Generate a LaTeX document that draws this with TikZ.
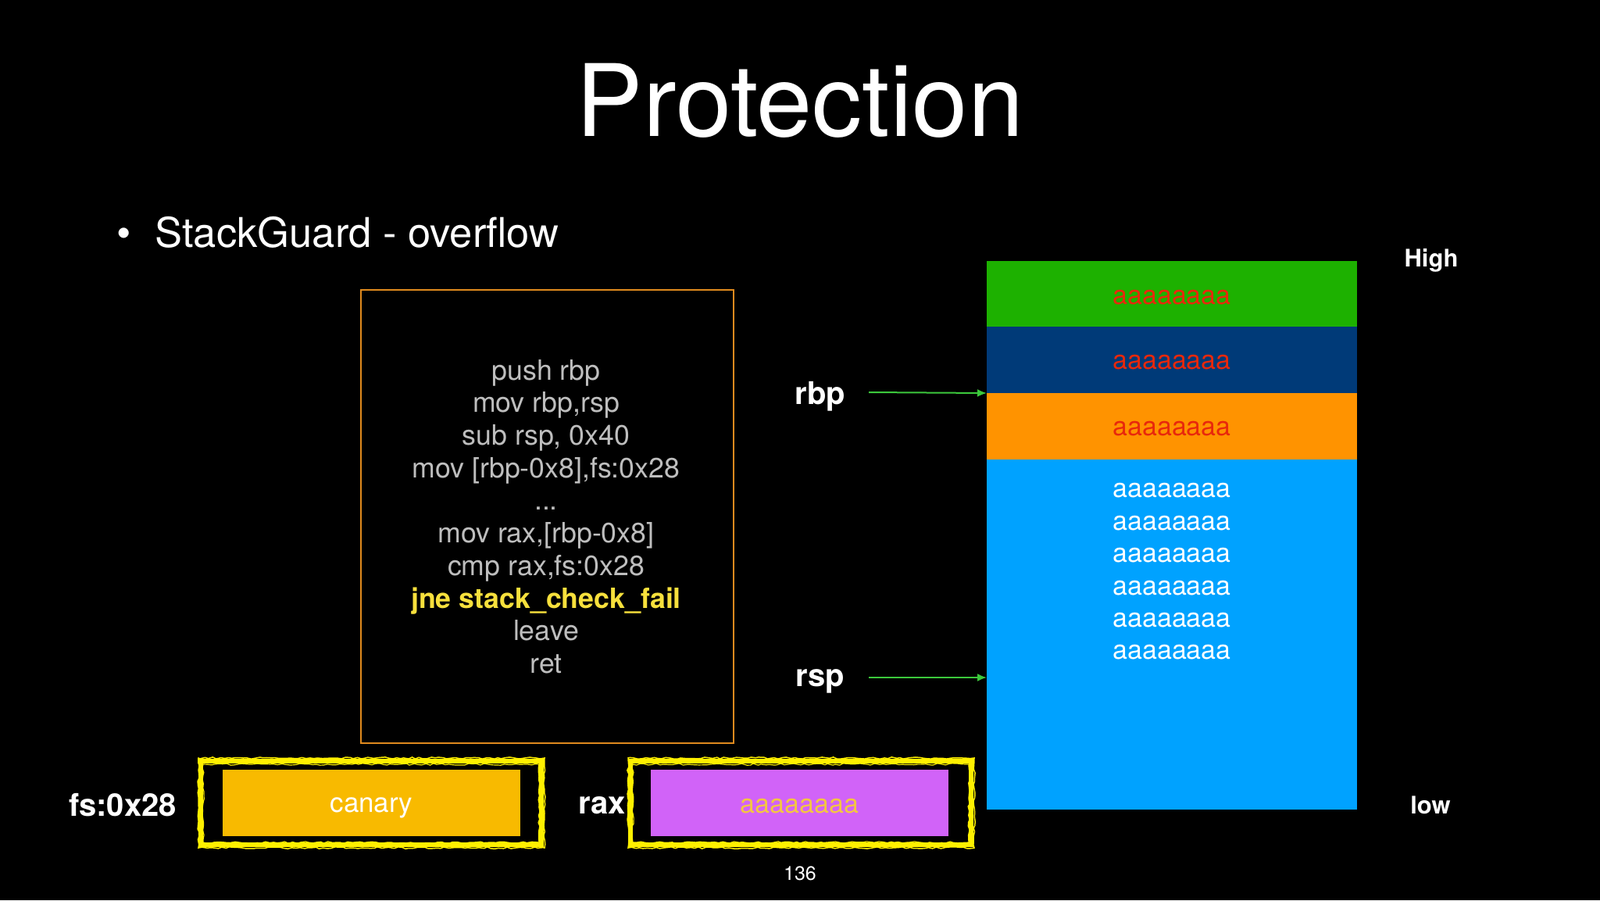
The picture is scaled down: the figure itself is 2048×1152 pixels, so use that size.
\documentclass[tikz,border=0pt]{standalone}
\usepackage{fontspec}
\setmainfont{TeX Gyre Heros}
\usetikzlibrary{decorations.pathmorphing,arrows.meta}
\definecolor{codegray}{HTML}{BEBEBE}
\definecolor{jneyellow}{HTML}{F7E03C}
\definecolor{boxorange}{HTML}{E08A1E}
\definecolor{cgreen}{HTML}{1DB100}
\definecolor{cnavy}{HTML}{003A78}
\definecolor{corange}{HTML}{FF9300}
\definecolor{clblue}{HTML}{00A2FF}
\definecolor{cred}{HTML}{E8280C}
\definecolor{arrowgreen}{HTML}{3CC83C}
\definecolor{canarygold}{HTML}{F8BA00}
\definecolor{rpurple}{HTML}{D163F8}
\definecolor{raxtext}{HTML}{F4C542}
\definecolor{frameyellow}{HTML}{FFF000}
\tikzset{
  cell/.style={draw=none, fill=#1, minimum width=474pt, inner sep=0pt, outer sep=0pt, anchor=north west},
  stacktxt/.style={font=\fontsize{34}{40}\selectfont, text=cred},
  reglabel/.style={font=\fontsize{40}{46}\selectfont\bfseries, text=white},
  sidelabel/.style={font=\fontsize{31}{36}\selectfont\bfseries, text=white},
  ptr/.style={draw=arrowgreen, line width=2pt, -{Latex[length=12pt,width=10pt]}},
  roughframe/.style={draw=frameyellow, line width=#1, decorate, decoration={random steps, segment length=5pt, amplitude=1.2pt}},
  innerbox/.style={fill=#1, minimum width=381pt, minimum height=85pt, inner sep=0pt, outer sep=0pt},
}
\begin{document}
\begin{tikzpicture}[x=1pt,y=-1pt]
\fill[black] (0,0) rectangle (2048,1152);
\useasboundingbox (0,0) rectangle (2048,1152);

% title
\node[text=white, font=\fontsize{128}{134}\selectfont, anchor=base] (title) at (1024,174) {Protection};
% bullet
\node[text=white, font=\fontsize{52.5}{58}\selectfont, anchor=base west, inner sep=0pt] (bullet) at (149,316) {•\hspace{31pt}StackGuard - overflow};

% code box
\node[draw=boxorange, line width=2pt, minimum width=477pt, minimum height=580pt, anchor=north west, inner sep=0pt] (code) at (461,370) {};
\node[align=center, text=codegray, font=\fontsize{35.7}{41.7}\selectfont, anchor=center] (codetxt) at (699,661) {push rbp\\mov rbp,rsp\\sub rsp, 0x40\\mov [rbp-0x8],fs:0x28\\...\\mov rax,[rbp-0x8]\\cmp rax,fs:0x28\\{\color{jneyellow}\bfseries jne stack\_check\_fail}\\leave\\ret};

% stack
\node[cell=cgreen, minimum height=84pt] (s1) at (1263,334) {};
\node[cell=cnavy, minimum height=85pt] (s2) at (1263,418) {};
\node[cell=corange, minimum height=85pt] (s3) at (1263,503) {};
\node[cell=clblue, minimum height=448pt] (s4) at (1263,588) {};
\node[stacktxt] (t1) at ([yshift=-5pt]s1.center) {aaaaaaaa};
\node[stacktxt] (t2) at ([yshift=-3pt]s2.center) {aaaaaaaa};
\node[stacktxt] (t3) at ([yshift=-3pt]s3.center) {aaaaaaaa};
\node[align=center, text=white, font=\fontsize{34}{41.4}\selectfont, anchor=north] (t4) at (1500,615) {aaaaaaaa\\aaaaaaaa\\aaaaaaaa\\aaaaaaaa\\aaaaaaaa\\aaaaaaaa};

\node[sidelabel] (high) at (1832,333) {High};
\node[sidelabel] (low) at (1831,1030) {low};

% pointers
\node[reglabel] (rbp) at (1050,507) {rbp};
\node[reglabel] (rsp) at (1050,872) {rsp};
\coordinate (rbpstart) at (1112,502);
\coordinate (rspstart) at (1112,867);
\coordinate (rspend) at (1263,867);
\draw[ptr] (rbpstart) -- (s3.north west);
\draw[ptr] (rspstart) -- (rspend);

% fs:0x28 / canary
\node[reglabel, anchor=center] (fs) at (157,1030) {fs:0x28};
\node[innerbox=canarygold, anchor=north west] (canary) at (285,985) {};
\node[text=white, font=\fontsize{35}{40}\selectfont] (canarytxt) at ([yshift=-6pt]canary.center) {canary};
\draw[frameyellow, line width=6pt] (257,974) rectangle (693,1081);
\draw[roughframe=1.5pt] (254,970) rectangle (697,1085);
\draw[roughframe=1.2pt] (260,978) rectangle (690,1078);

% rax
\node[reglabel, anchor=center] (rax) at (771,1031) {rax};
\node[innerbox=rpurple, anchor=north west] (raxbox) at (833,985) {};
\node[text=raxtext, font=\fontsize{34}{40}\selectfont] (raxtxt) at ([yshift=-4pt]raxbox.center) {aaaaaaaa};
\draw[frameyellow, line width=6pt] (807,974) rectangle (1243,1081);
\draw[roughframe=1.5pt] (804,970) rectangle (1247,1085);
\draw[roughframe=1.2pt] (810,978) rectangle (1240,1078);

% page number
\node[text=white, font=\fontsize{25}{30}\selectfont] (page) at (1024,1118) {136};
\end{tikzpicture}
\end{document}
